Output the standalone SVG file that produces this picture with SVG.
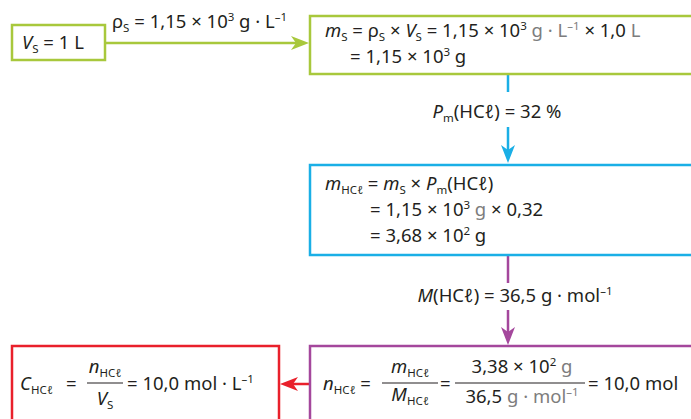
<svg xmlns="http://www.w3.org/2000/svg" width="691" height="419" viewBox="0 0 691 419">
<style>
.t{font-family:"Noto Sans","DejaVu Sans",sans-serif;font-size:18.5px;fill:#231f20}
.i{font-style:italic}
.g{fill:#7d7d7d}
.s{font-size:11.5px}
.box{fill:#fff;stroke-width:2.5}
.ln{fill:none;stroke-width:2.5}
</style>
<defs>
<marker id="ag" viewBox="0 0 18 14" markerWidth="18" markerHeight="14" refX="5" refY="7" orient="auto" markerUnits="userSpaceOnUse"><path d="M0,0 L18,7 L0,14 L5,7 Z" fill="#a8c83c"/></marker>
<marker id="ab" viewBox="0 0 18 14" markerWidth="18" markerHeight="14" refX="5" refY="7" orient="auto" markerUnits="userSpaceOnUse"><path d="M0,0 L18,7 L0,14 L5,7 Z" fill="#1aafe6"/></marker>
<marker id="ap" viewBox="0 0 18 14" markerWidth="18" markerHeight="14" refX="5" refY="7" orient="auto" markerUnits="userSpaceOnUse"><path d="M0,0 L18,7 L0,14 L5,7 Z" fill="#a4479c"/></marker>
<marker id="ar" viewBox="0 0 18 14" markerWidth="18" markerHeight="14" refX="5" refY="7" orient="auto" markerUnits="userSpaceOnUse"><path d="M0,0 L18,7 L0,14 L5,7 Z" fill="#e9202b"/></marker>
</defs>
<rect width="691" height="419" fill="#fff"/>

<g id="connectors">
<line class="ln" x1="105" y1="43" x2="296" y2="43" stroke="#a8c83c" marker-end="url(#ag)"/>
<line class="ln" x1="508" y1="74" x2="508" y2="92" stroke="#1aafe6"/>
<line class="ln" x1="508" y1="127" x2="508" y2="150" stroke="#1aafe6" marker-end="url(#ab)"/>
<line class="ln" x1="508" y1="256" x2="508" y2="283" stroke="#a4479c"/>
<line class="ln" x1="508" y1="310" x2="508" y2="332" stroke="#a4479c" marker-end="url(#ap)"/>
<line class="ln" x1="310" y1="384" x2="293" y2="384" stroke="#e9202b" marker-end="url(#ar)"/>
<text class="t" x="112" y="28" font-size="20">ρ<tspan class="s" font-size="12.5" dy="4">S</tspan><tspan dy="-4"> = 1,15 × 10</tspan><tspan class="s" font-size="12.5" dy="-7">3</tspan><tspan dy="7"> g · L</tspan><tspan class="s" font-size="12.5" dy="-7">–1</tspan></text>
<text class="t" x="497" y="118" font-size="21.5" text-anchor="middle"><tspan class="i">P</tspan><tspan class="s" font-size="13" dy="4">m</tspan><tspan dy="-4">(HCℓ) = 32 %</tspan></text>
<text class="t" x="515" y="302" font-size="21" text-anchor="middle"><tspan class="i">M</tspan>(HCℓ) = 36,5 g · mol<tspan class="s" font-size="13" dy="-7">–1</tspan></text>
</g>

<g id="n1">
<rect class="box" x="12" y="25" width="93" height="35" stroke="#a8c83c"/>
<text class="t" x="22" y="49" font-size="22"><tspan class="i">V</tspan><tspan class="s" font-size="13.5" dy="4">S</tspan><tspan dy="-4"> = 1 L</tspan></text>
</g>

<g id="n2">
<rect class="box" x="310" y="16" width="400" height="58" stroke="#a8c83c"/>
<text class="t" x="325" y="37"><tspan class="i">m</tspan><tspan class="s" dy="4">S</tspan><tspan dy="-4"> = ρ</tspan><tspan class="s" dy="4">S</tspan><tspan dy="-4"> × </tspan><tspan class="i">V</tspan><tspan class="s" dy="4">S</tspan><tspan dy="-4"> = 1,15 × 10</tspan><tspan class="s" dy="-7">3</tspan><tspan class="g" dy="7"> g · L</tspan><tspan class="s g" dy="-7">–1</tspan><tspan dy="7"> × 1,0 </tspan><tspan class="g">L</tspan></text>
<text class="t" x="350" y="63">= 1,15 × 10<tspan class="s" dy="-7">3</tspan><tspan dy="7"> g</tspan></text>
</g>

<g id="n3">
<rect class="box" x="310" y="165" width="400" height="90" stroke="#1aafe6"/>
<text class="t" x="325" y="190"><tspan class="i">m</tspan><tspan class="s" dy="4">HCℓ</tspan><tspan dy="-4"> = </tspan><tspan class="i">m</tspan><tspan class="s" dy="4">S</tspan><tspan dy="-4"> × </tspan><tspan class="i">P</tspan><tspan class="s" dy="4">m</tspan><tspan dy="-4">(HCℓ)</tspan></text>
<text class="t" x="370" y="216">= 1,15 × 10<tspan class="s" dy="-7">3</tspan><tspan class="g" dy="7"> g</tspan><tspan> × 0,32</tspan></text>
<text class="t" x="370" y="242">= 3,68 × 10<tspan class="s" dy="-7">2</tspan><tspan dy="7"> g</tspan></text>
</g>

<g id="n4">
<rect class="box" x="310" y="346" width="400" height="100" stroke="#a4479c"/>
<text class="t" x="323" y="390" font-size="20"><tspan class="i">n</tspan><tspan class="s" dy="4">HCℓ</tspan><tspan dy="-4"> =</tspan></text>
<line x1="382" y1="383" x2="438" y2="383" stroke="#231f20" stroke-width="1.2"/>
<text class="t" x="410" y="373" font-size="20" text-anchor="middle"><tspan class="i">m</tspan><tspan class="s" dy="4">HCℓ</tspan></text>
<text class="t" x="410" y="401" font-size="20" text-anchor="middle"><tspan class="i">M</tspan><tspan class="s" dy="4">HCℓ</tspan></text>
<text class="t" x="440" y="390" font-size="20">=</text>
<line x1="455" y1="383" x2="585" y2="383" stroke="#231f20" stroke-width="1.2"/>
<text class="t" x="522" y="373" font-size="20" text-anchor="middle">3,38 × 10<tspan class="s" dy="-7">2</tspan><tspan class="g" dy="7"> g</tspan></text>
<text class="t" x="522" y="403" font-size="20" text-anchor="middle">36,5 <tspan class="g">g · mol</tspan><tspan class="s g" dy="-7">–1</tspan></text>
<text class="t" x="588" y="390" font-size="20">= 10,0 mol</text>
</g>

<g id="n5">
<rect class="box" x="12" y="346" width="267" height="100" stroke="#e9202b"/>
<text class="t" x="20" y="390" font-size="20"><tspan class="i">C</tspan><tspan class="s" dy="4">HCℓ</tspan></text>
<text class="t" x="66" y="390" font-size="20">=</text>
<line x1="87" y1="383" x2="123" y2="383" stroke="#231f20" stroke-width="1.2"/>
<text class="t" x="105" y="373" font-size="20" text-anchor="middle"><tspan class="i">n</tspan><tspan class="s" dy="4">HCℓ</tspan></text>
<text class="t" x="105" y="405" font-size="20" text-anchor="middle"><tspan class="i">V</tspan><tspan class="s" dy="4">S</tspan></text>
<text class="t" x="127" y="390" font-size="20">= 10,0 mol · L<tspan class="s" dy="-7">–1</tspan></text>
</g>
</svg>
